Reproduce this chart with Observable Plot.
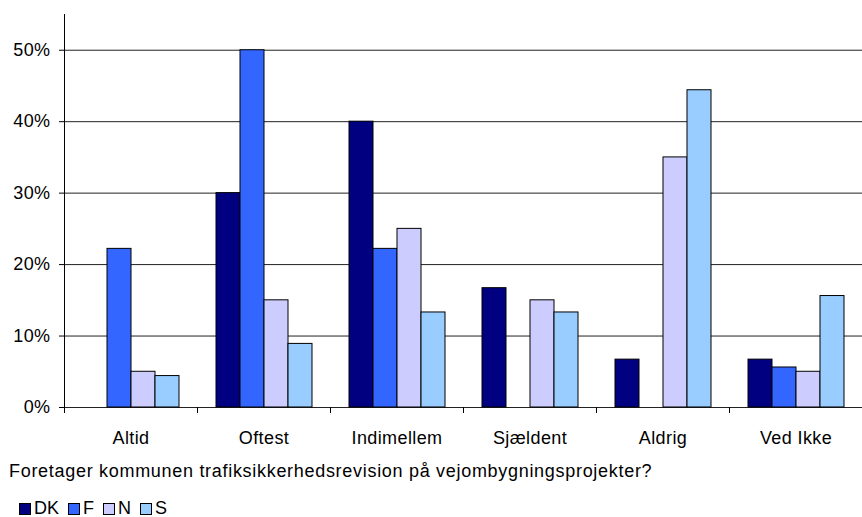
<!DOCTYPE html>
<html>
<head>
<meta charset="utf-8">
<script src="https://cdn.jsdelivr.net/npm/d3@7"></script>
<script src="https://cdn.jsdelivr.net/npm/@observablehq/plot@0.6"></script>
<style>
  body { margin: 0; background: #fff; font-family: "Liberation Sans", Arial, sans-serif; }
  #caption { position: absolute; left: 9px; top: 461px; font-size: 18px; letter-spacing: 0.7px; color: #000; white-space: nowrap; }
  #legend { position: absolute; left: 19px; top: 498px; font-size: 18px; color: #000; display: flex; align-items: center; }
  #legend span.sw { display: inline-block; width: 10px; height: 10px; border: 1px solid #000; margin-right: 3px; }
  #legend span.lb { margin-right: 9px; }
</style>
</head>
<body>
<div id="chart"></div>
<div id="caption">Foretager kommunen trafiksikkerhedsrevision på vejombygningsprojekter?</div>
<div id="legend"></div>
<script>
const categories = ["Altid", "Oftest", "Indimellem", "Sjældent", "Aldrig", "Ved Ikke"];
const series = ["DK", "F", "N", "S"];
const colors = ["#000080", "#3366FF", "#CCCCFF", "#99CCFF"];
const DK = [0, 30, 40, 16.7, 6.7, 6.7];
const F  = [22.2, 50, 22.2, 0, 0, 5.6];
const N  = [5, 15, 25, 15, 35, 5];
const S  = [4.4, 8.9, 13.3, 13.3, 44.4, 15.6];
const yTicks = [0, 10, 20, 30, 40, 50];

const valuesBySeries = {DK, F, N, S};
const data = [];
categories.forEach((c, i) => series.forEach(s => {
  const v = valuesBySeries[s][i];
  if (v > 0) data.push({category: c, series: s, value: v});
}));

const chart = Plot.plot({
  width: 862,
  height: 450,
  marginLeft: 63,
  marginRight: 0,
  marginTop: 14,
  marginBottom: 43,
  style: {fontFamily: "Liberation Sans, Arial, sans-serif", fontSize: "18px", letterSpacing: "0.4px", color: "#000", background: "#fff"},
  fx: {domain: categories, padding: 0, label: null},
  x: {domain: series, paddingInner: 0, paddingOuter: 0.72, axis: null},
  y: {domain: [0, 55], label: null},
  color: {domain: series, range: colors},
  marks: [
    Plot.gridY(yTicks, {stroke: "#222", strokeOpacity: 1, strokeWidth: 1}),
    Plot.barY(data, {fx: "category", x: "series", y: "value", fill: "series", stroke: "#000", strokeWidth: 1}),
    Plot.frame({anchor: "left", stroke: "#000", insetTop: 393, insetBottom: -5}),
    Plot.frame({anchor: "left", stroke: "#000", facet: "super", insetBottom: -5}),
    Plot.axisY(yTicks, {tickSize: 5, tickPadding: 9, tickFormat: d => d + "%", fontSize: 18, stroke: "#000"}),
    Plot.axisFx({anchor: "bottom", tickSize: 0, tickPadding: 24, fontSize: 18, label: null})
  ]
});
document.getElementById("chart").appendChild(chart);

const legend = document.getElementById("legend");
series.forEach((s, i) => {
  const sw = document.createElement("span");
  sw.className = "sw";
  sw.style.background = colors[i];
  const lb = document.createElement("span");
  lb.className = "lb";
  lb.textContent = s;
  legend.appendChild(sw);
  legend.appendChild(lb);
});
</script>
</body>
</html>
